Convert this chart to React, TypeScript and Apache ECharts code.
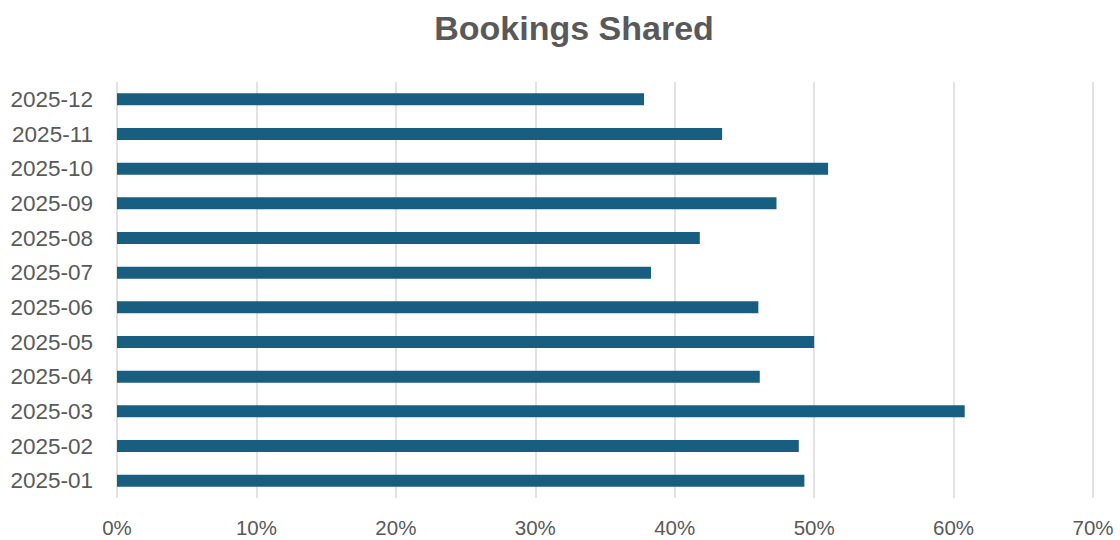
import React, { useEffect, useRef } from "react";
import * as echarts from "echarts";

const titleText = "Bookings Shared";
const categories = [
  "2025-01", "2025-02", "2025-03", "2025-04", "2025-05", "2025-06",
  "2025-07", "2025-08", "2025-09", "2025-10", "2025-11", "2025-12",
];
const shareValues = [49.3, 48.9, 60.8, 46.1, 50.0, 46.0, 38.3, 41.8, 47.3, 51.0, 43.4, 37.8];
const xMin = 0;
const xMax = 70;
const xInterval = 10;

export default function App() {
  const ref = useRef<HTMLDivElement>(null);
  useEffect(() => {
    if (!ref.current) return;
    const chart = echarts.init(ref.current, undefined, { renderer: "svg" });
    chart.setOption({
      animation: false,
      backgroundColor: "#ffffff",
      title: {
        text: titleText,
        left: 569,
        textAlign: "center",
        top: 6,
        textStyle: {
          fontFamily: "Liberation Sans, Arial, sans-serif",
          fontSize: 34,
          fontWeight: "bold",
          color: "#595959",
        },
      },
      grid: { left: 117, right: 27, top: 82, bottom: 42, containLabel: false },
      xAxis: {
        type: "value",
        min: xMin,
        max: xMax,
        interval: xInterval,
        axisLine: { show: false },
        axisTick: { show: false },
        splitLine: { show: true, lineStyle: { color: "#d9d9d9", width: 1.5 } },
        axisLabel: {
          formatter: (v: number) => `${v}%`,
          fontFamily: "Liberation Sans, Arial, sans-serif",
          fontSize: 20.5,
          color: "#595959",
          margin: 19,
        },
      },
      yAxis: {
        type: "category",
        data: categories,
        axisLine: { show: false },
        axisTick: { show: false },
        splitLine: { show: false },
        axisLabel: {
          fontFamily: "Liberation Sans, Arial, sans-serif",
          fontSize: 22.5,
          color: "#595959",
          margin: 24,
        },
      },
      series: [
        {
          type: "bar",
          data: shareValues,
          barWidth: 12,
          itemStyle: { color: "#185E80" },
        },
      ],
    });
    return () => chart.dispose();
  }, []);
  return (
    <div
      ref={ref}
      style={{ position: "fixed", left: 0, top: 0, width: 1120, height: 540 }}
    />
  );
}
